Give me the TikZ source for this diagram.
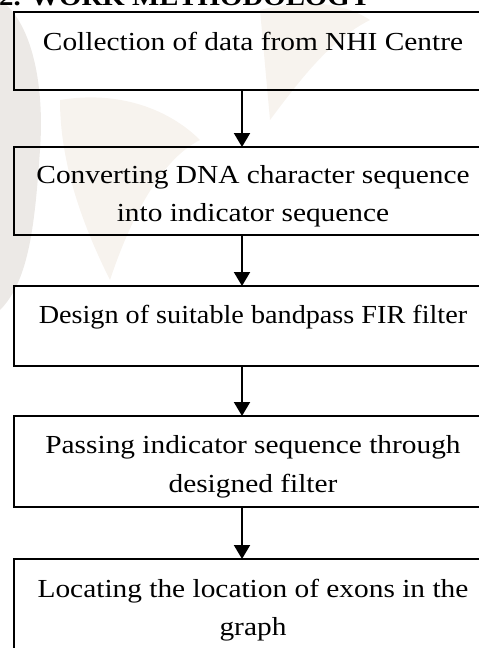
\documentclass[tikz,border=0pt]{standalone}
\usepackage{fontspec}
\setmainfont{Liberation Serif}[FakeStretch=1.13]
\usetikzlibrary{arrows.meta}
\definecolor{wmA}{RGB}{236,233,230}
\definecolor{wmB}{RGB}{247,243,238}
\tikzset{
  stepbox/.style={draw=black, line width=2pt, outer sep=0pt, inner sep=0pt,
    minimum width=478pt, rectangle},
  txt/.style={inner sep=0pt, anchor=base, font=\fontsize{26}{38.5}\selectfont},
  arr/.style={draw=black, line width=2pt, -{Triangle[width=16pt,length=14pt]}},
}
\begin{document}
\begin{tikzpicture}[x=1pt,y=-1pt]
\useasboundingbox (0,0) rectangle (479,648);
% faint watermark in the background
\fill[wmA] (0,0) .. controls (30,20) and (45,80) .. (40,150)
  .. controls (35,220) and (30,280) .. (0,310) -- cycle;
\fill[wmB] (60,100) .. controls (120,90) and (170,110) .. (200,140)
  .. controls (160,160) and (130,220) .. (110,280)
  .. controls (80,220) and (60,160) .. (60,100) -- cycle;
\fill[wmB] (260,10) .. controls (300,0) and (340,0) .. (370,20)
  .. controls (330,40) and (300,80) .. (270,120) -- cycle;
% header
\node[inner sep=0pt, anchor=base west, font=\fontsize{25.5}{30}\selectfont\bfseries]
  (head) at (-1,5) {2. WORK METHODOLOGY};
% boxes
\node[stepbox, minimum height=78pt] (b1) at (253,51) {};
\node[stepbox, minimum height=88pt] (b2) at (253,191) {};
\node[stepbox, minimum height=80pt] (b3) at (253,326) {};
\node[stepbox, minimum height=91pt] (b4) at (253,461.5) {};
\node[stepbox, minimum height=140pt] (b5) at (253,629) {};
% texts
\node[txt] (t1) at (253,50) {Collection of data from NHI Centre};
\node[txt] (t2a) at (253,183) {Converting DNA character sequence};
\node[txt] (t2b) at (253,221) {into indicator sequence};
\node[txt] (t3) at (253,323) {\scalebox{0.96}[1]{Design of suitable bandpass FIR filter}};
\node[txt] (t4a) at (253,453) {Passing indicator sequence through};
\node[txt] (t4b) at (253,492) {designed filter};
\node[txt] (t5a) at (253,597) {Locating the location of exons in the};
\node[txt] (t5b) at (253,635) {graph};
% arrows
\coordinate (ax) at (242,0);
\draw[arr] (b1.south -| ax) -- (b2.north -| ax);
\draw[arr] (b2.south -| ax) -- (b3.north -| ax);
\draw[arr] (b3.south -| ax) -- (b4.north -| ax);
\draw[arr] (b4.south -| ax) -- (b5.north -| ax);
\end{tikzpicture}
\end{document}
